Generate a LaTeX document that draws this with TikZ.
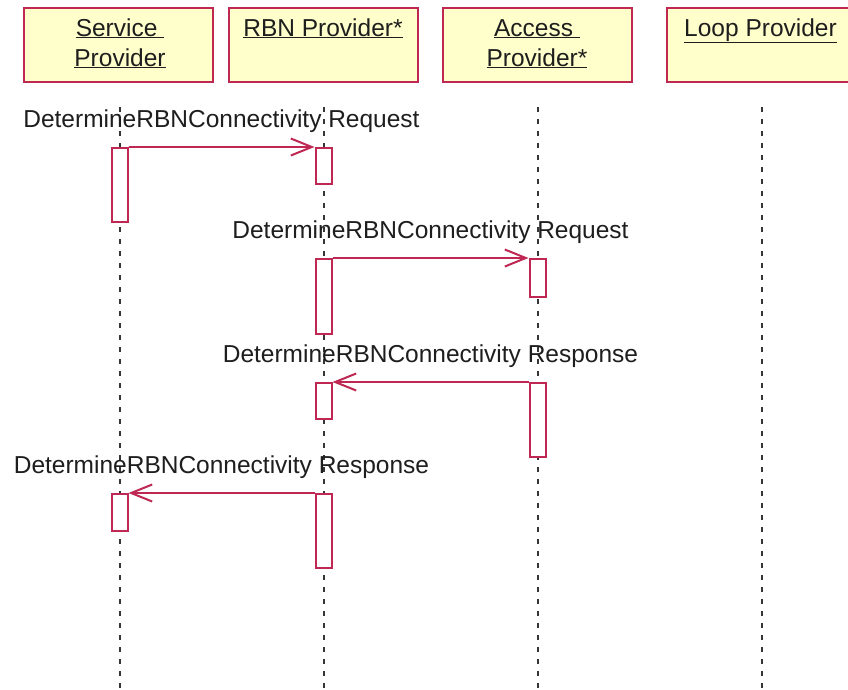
\documentclass[tikz,border=0pt]{standalone}
\usepackage{fontspec}
\setmainfont{Liberation Sans}
\usetikzlibrary{arrows.meta}
\definecolor{umlred}{RGB}{190,40,82}
\definecolor{umlfill}{RGB}{255,255,204}
\definecolor{umltext}{RGB}{30,30,30}
\tikzset{
  hdr/.style={draw=umlred, fill=umlfill, line width=2pt, minimum width=189pt, minimum height=74pt, inner sep=0pt},
  htxt/.style={anchor=base, inner sep=0pt, text=umltext, font=\fontsize{24.5}{29}\selectfont},
  lifeline/.style={draw=umltext!90, line width=2pt, dash pattern=on 5pt off 7pt},
  act/.style={draw=umlred, fill=white, line width=2pt, minimum width=16pt, inner sep=0pt, anchor=north},
  msg/.style={draw=umlred, line width=2pt, -{Straight Barb[length=21pt,width=17pt]}},
  lbl/.style={anchor=base, inner sep=0pt, text=umltext, font=\fontsize{24.5}{29}\selectfont, yshift=20pt}
}
\begin{document}
\begin{tikzpicture}[x=1pt,y=-1pt]
\clip (0,0) rectangle (848,689);
\fill[white] (0,0) rectangle (848,689);
% header boxes
\node[hdr] (sp) at (118.5,44.5) {};
\node[hdr] (rbn) at (323.5,44.5) {};
\node[hdr] (ap) at (537.5,44.5) {};
\node[hdr] (lp) at (761.5,44.5) {};
\node[htxt] (spt1) at (120,36) {\underline{Service\ }};
\node[htxt] (spt2) at (120,66) {\underline{Provider}};
\node[htxt] (rbnt) at (323,36) {\underline{RBN Provider*}};
\node[htxt] (apt1) at (537,36) {\underline{Access\ }};
\node[htxt] (apt2) at (537,66) {\underline{Provider*}};
\node[htxt] (lpt) at (760.5,36) {\underline{Loop Provider}};
% lifelines
\coordinate (spA) at (120,107);   \coordinate (spB) at (120,689);
\coordinate (rbnA) at (323.5,107); \coordinate (rbnB) at (323.5,689);
\coordinate (apA) at (537.5,107);  \coordinate (apB) at (537.5,689);
\coordinate (lpA) at (761.5,107);  \coordinate (lpB) at (761.5,689);
\draw[lifeline] (spA) -- (spB);
\draw[lifeline] (rbnA) -- (rbnB);
\draw[lifeline] (apA) -- (apB);
\draw[lifeline] (lpA) -- (lpB);
% activations
\node[act, minimum height=74pt] (sa1) at (119.5,147) {};
\node[act, minimum height=36pt] (ra1) at (323.5,147) {};
\node[act, minimum height=75pt] (ra2) at (323.5,258) {};
\node[act, minimum height=38pt] (aa1) at (537.5,258) {};
\node[act, minimum height=74pt] (aa2) at (537.5,382) {};
\node[act, minimum height=36pt] (ra3) at (323.5,382) {};
\node[act, minimum height=37pt] (sa2) at (119.5,493) {};
\node[act, minimum height=74pt] (ra4) at (323.5,493) {};
% messages
\draw[msg] (sa1.north east) -- (ra1.north west) node[lbl, pos=0.5] (m1) {DetermineRBNConnectivity Request};
\draw[msg] (ra2.north east) -- (aa1.north west) node[lbl, pos=0.5] (m2) {DetermineRBNConnectivity Request};
\draw[msg] (aa2.north west) -- (ra3.north east) node[lbl, pos=0.5] (m3) {DetermineRBNConnectivity Response};
\draw[msg] (ra4.north west) -- (sa2.north east) node[lbl, pos=0.5] (m4) {DetermineRBNConnectivity Response};
\end{tikzpicture}
\end{document}
